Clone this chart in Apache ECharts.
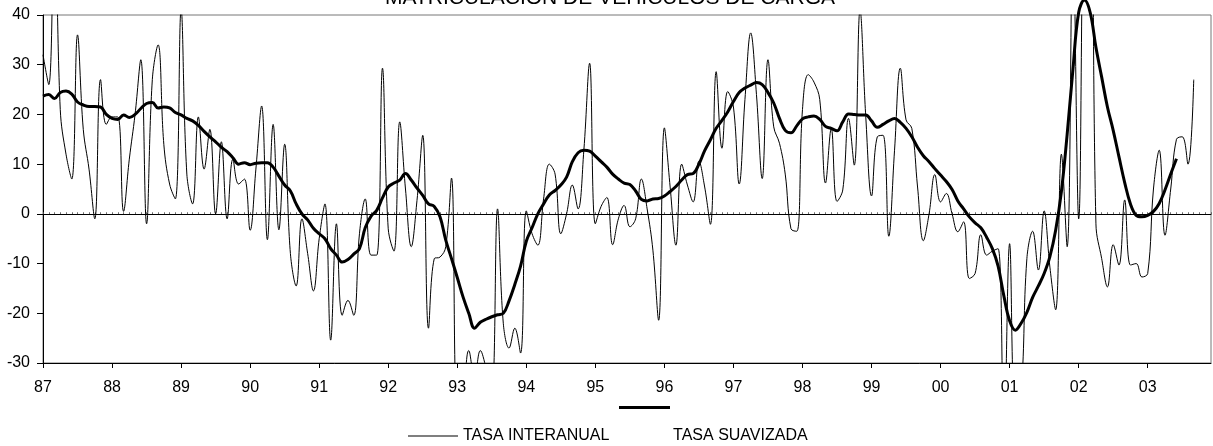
<!DOCTYPE html>
<html>
<head>
<meta charset="utf-8">
<script src="https://cdn.jsdelivr.net/npm/echarts@6/dist/echarts.min.js"></script>
<style>
    html, body { margin: 0; padding: 0; background: #fff; }
    #chart { width: 1213px; height: 446px; }
</style>
</head>
<body>
<div id="chart"></div>
<script>
// años del eje (etiqueta cada enero)
var years = ['87', '88', '89', '90', '91', '92', '93', '94', '95', '96', '97', '98', '99', '00', '01', '02', '03'];
var yTicks = { min: -30, max: 40, step: 10 };

// tasa interanual, mensual desde ene-87
var tasaInteranual = [
    32, 26, 62, 21, 12, 7, 36, 17, 9, -1, 27, 18,
    19.5, 19.5, 0.5, 11, 20, 31, -2, 27, 34, 14, 6, 3,
    41, 8, 2, 19.5, 9, 17, 0, 14.5, -1, 11, 6, 7,
    -3.3, 9, 21.7, -5.2, 18, -3.2, 14, -8, -14.5, -1, -8, -15.5,
    -5, 2, -25.4, -2, -20.4, -17.4, -20.4, -4, 3, -8.3, -8.3, 29.3,
    -3, -7.5, 18.5, 5, -6.6, 2.7, 15.8, -23, -9, -8.7, -6.6, 7.2,
    -39, -36, -27.5, -33, -27.5, -31, -36, 1, -22, -27, -23, -28,
    0.6, -4, -6.3, 3, 10, 8, -4, 0, 5.8, 1, 12.8, 30.3,
    -2, 1.5, 3.3, -6.2, -1, 1.7, -2.6, -1, 7, 1, -7.3, -21.4,
    17.3, 5.4, -6.3, 10, 5.8, 2.4, 10.6, 5.4, -2.1, 28.6, 13.2, 24.6,
    21.5, 6, 23, 36.4, 24, 7.1, 31, 17.5, 14.2, 8, -3, -3.5,
    21, 28, 26.5, 23, 6.2, 17.2, 2.5, 4.8, 19.2, 9.8, 41, 19.5,
    3.6, 15.5, 15.8, -4.5, 12.8, 29.3, 18.9, 17.2, 5.4, -5.4, 0, 7.9,
    2.4, 4.1, 0, -3.6, -1.6, -13, -12, -4.2, -8.3, -7.5, -7, -45,
    -6, -40, -36, -9, -3.5, -11.3, 0.6, -10.7, -19.3, 12, -6.6, 55,
    -1, 75, 90, -2, -9, -14.7, -6.2, -10.3, 2.8, -10.3, -10, -12.7,
    -12, 5, 12.8, -4.3, 5, 15, 15.5, 10, 27
];

// tasa suavizada
var tasaSuavizada = [
    23.7, 24, 23.2, 24.4, 24.7, 24.1, 22.5, 21.9, 21.6, 21.6, 21.5, 20,
    19.2, 19, 19.9, 19.4, 20, 21.2, 22.2, 22.4, 21.3, 21.5, 21.3, 20.4,
    19.9, 19.2, 18.7, 17.8, 16.6, 15.5, 14.5, 13.4, 12.5, 11.3, 10, 10.3,
    9.9, 10.2, 10.3, 10.3, 9.4, 7.6, 5.8, 4.6, 2, 0, -1.2, -2.9,
    -4, -5, -7, -8.3, -9.7, -9.2, -8.1, -7, -2.8, -0.5, 0.7, 3.2,
    5.4, 6.2, 6.8, 8.1, 6.8, 5.2, 3.7, 2, 1.5, -0.6, -5.3, -9,
    -12.8, -16.7, -20, -23, -21.8, -21.2, -20.7, -20.3, -20, -17.5, -14.2, -10.5,
    -5.5, -2.8, 0, 2, 3.8, 4.7, 5.8, 7.4, 10.5, 12.3, 12.8, 12.6,
    11.6, 10.5, 9.4, 8, 7, 6.2, 5.9, 4.6, 2.9, 2.6, 3, 3.1,
    3.6, 4.5, 5.5, 6.8, 7.9, 8.1, 10, 12.7, 14.9, 17.2, 18.8, 20.5,
    22.6, 24.4, 25.3, 25.9, 26.4, 26, 24.4, 22.3, 19.2, 16.8, 16.3, 17.7,
    19.1, 19.5, 19.7, 19, 17.6, 17.2, 16.7, 18.5, 20.1, 20, 19.9, 19.9,
    18.7, 17.4, 18, 18.7, 19.2, 18.4, 17.2, 15.5, 13.4, 11.7, 10.5, 9.1,
    7.8, 6.5, 4.9, 2.6, 1, -0.6, -1.8, -2.8, -4.7, -7, -10.5, -16.5,
    -21.5, -23.4, -22, -19.8, -16.8, -14.5, -12, -8.6, -3.3, 4.5, 16, 29,
    40.5, 43, 40.5, 33.5, 27.5, 21.5, 16.8, 11.5, 6.3, 2, -0.3, -0.6,
    -0.3, 0.5, 2.1, 4.8, 8, 11.1
];

// categorias mensuales: "87-1" ... "03-12"
var months = [];
years.forEach(function (y) {
    for (var m = 1; m <= 12; m++) months.push(y + '-' + m);
});

var font = "'Liberation Sans', Arial, sans-serif";

var myChart = echarts.init(document.getElementById('chart'), null, { renderer: 'canvas' });
var option = {
    backgroundColor: '#fff',
    animation: false,
    title: {
        text: 'MATRICULACIÓN DE VEHÍCULOS DE CARGA',
        left: 385,
        top: -12,
        padding: 0,
        textStyle: { fontFamily: font, fontSize: 21, fontWeight: 'normal', color: '#000' }
    },
    grid: {
        left: 43,
        right: 2,
        top: 15,
        bottom: 83,
        show: true,
        borderColor: '#777',
        borderWidth: 1,
        backgroundColor: 'transparent'
    },
    legend: [
        {
            data: ['TASA INTERANUAL'],
            left: 408,
            top: 428,
            padding: 0,
            icon: 'rect',
            itemWidth: 50,
            itemHeight: 1,
            itemStyle: { color: '#000' },
            textStyle: { fontFamily: font, fontSize: 16, color: '#000' }
        },
        {
            // muestra de la linea gruesa, encima del texto
            data: ['TASA SUAVIZADA'],
            left: 619,
            top: 406,
            padding: 0,
            icon: 'rect',
            itemWidth: 51,
            itemHeight: 3,
            itemStyle: { color: '#000' },
            formatter: function () { return ''; },
            textStyle: { fontSize: 1 }
        },
        {
            data: ['TASA SUAVIZADA'],
            left: 668,
            top: 428,
            padding: 0,
            icon: 'rect',
            itemWidth: 0.1,
            itemHeight: 0.1,
            itemStyle: { opacity: 0 },
            textStyle: { fontFamily: font, fontSize: 16, color: '#000' }
        }
    ],
    xAxis: [
        {
            type: 'category',
            data: months,
            boundaryGap: false,
            axisLine: { onZero: false, lineStyle: { color: '#000', width: 1 } },
            axisTick: { interval: 11, length: 5, lineStyle: { color: '#000' } },
            axisLabel: {
                interval: 11,
                margin: 17,
                fontFamily: font,
                fontSize: 16,
                color: '#000',
                formatter: function (v) { return v.split('-')[0]; }
            },
            splitLine: { show: false }
        },
        {
            // linea del cero con marcas mensuales
            type: 'category',
            data: months,
            boundaryGap: false,
            position: 'top',
            axisLine: { onZero: true, lineStyle: { color: '#000', width: 1 } },
            axisTick: { interval: 0, length: 1.5, lineStyle: { color: '#555' } },
            axisLabel: { show: false },
            splitLine: { show: false }
        }
    ],
    yAxis: {
        type: 'value',
        min: yTicks.min,
        max: yTicks.max,
        interval: yTicks.step,
        axisLine: { show: true, lineStyle: { color: '#000', width: 1 } },
        axisTick: { show: true, length: 6, lineStyle: { color: '#000' } },
        axisLabel: { margin: 13, fontFamily: font, fontSize: 16, color: '#000' },
        splitLine: { show: false }
    },
    series: [
        {
            name: 'TASA INTERANUAL',
            type: 'line',
            data: tasaInteranual,
            symbol: 'none',
            smooth: 0.4,
            clip: true,
            lineStyle: { color: '#000', width: 1 },
            itemStyle: { color: '#000' }
        },
        {
            name: 'TASA SUAVIZADA',
            type: 'line',
            data: tasaSuavizada,
            symbol: 'none',
            smooth: 0.4,
            clip: false,
            lineStyle: { color: '#000', width: 3 },
            itemStyle: { color: '#000' }
        }
    ]
};
myChart.setOption(option);
</script>
</body>
</html>
